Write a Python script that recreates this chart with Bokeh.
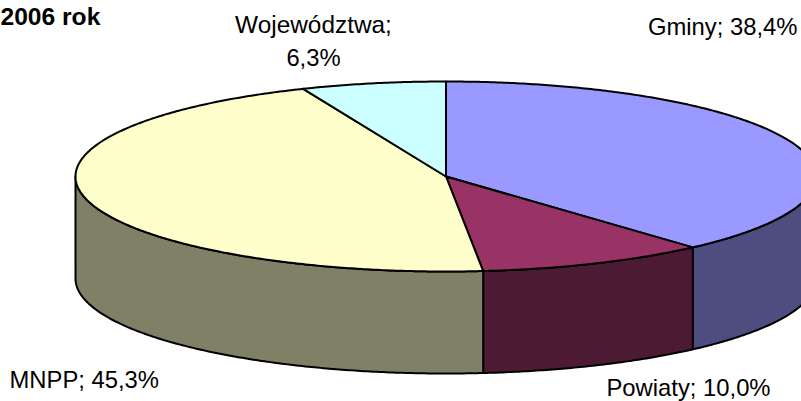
import numpy as np
from bokeh.plotting import figure
from bokeh.embed import file_html
from bokeh.resources import INLINE
from bokeh.core.properties import value

categories = ["Gminy", "Powiaty", "MNPP", "Województwa"]
shares = [38.4, 10.0, 45.3, 6.3]
top_colors = ["#9999FF", "#993366", "#FFFFCC", "#CCFFFF"]
side_colors = ["#4D4D80", "#4D1A33", "#808066", "#668080"]
title_text = "2006 rok"
label_texts = ["Gminy; 38,4%", "Powiaty; 10,0%", "MNPP; 45,3%", "Województwa;", "6,3%"]
label_x = [647.5, 606, 9, 313, 313]
label_y = [26, 387, 379, 24, 57]
label_align = ["left", "left", "left", "center", "center"]
label_size = ["23.8px", "23.8px", "23.8px", "24.4px", "23.8px"]

CX, CY, RX, RY, DEPTH = 445.5, 176, 370.5, 95, 102
FONT = "Liberation Sans"
EDGE = 2

p = figure(width=801, height=401, x_range=(0, 801), y_range=(401, 0),
           output_backend="svg", toolbar_location=None, min_border=0,
           outline_line_color=None, background_fill_color="white",
           border_fill_color="white")
p.axis.visible = False
p.grid.visible = False


def rim(a0, a1, dy=0.0):
    t = np.radians(np.linspace(a0, a1, max(2, int(abs(a1 - a0) * 2) + 1)))
    return CX + RX * np.sin(t), CY - RY * np.cos(t) + dy


edges = np.concatenate([[0], np.cumsum(shares)]) / sum(shares) * 360

# front wall of each slice: only the part of the rim that faces the viewer
for a0, a1, col in zip(edges[:-1], edges[1:], side_colors):
    lo, hi = max(a0, 90), min(a1, 270)
    if hi <= lo:
        continue
    xu, yu = rim(lo, hi)
    xl, yl = rim(lo, hi, DEPTH)
    p.patch(np.concatenate([xu, xl[::-1]]), np.concatenate([yu, yl[::-1]]),
            fill_color=col, line_color="black", line_width=EDGE, line_join="round")

# top face
for a0, a1, col in zip(edges[:-1], edges[1:], top_colors):
    xr, yr = rim(a0, a1)
    p.patch(np.concatenate([[CX], xr]), np.concatenate([[CY], yr]),
            fill_color=col, line_color="black", line_width=EDGE, line_join="round")

for tx, ty, txt, al, sz in zip(label_x, label_y, label_texts, label_align, label_size):
    p.text([tx], [ty], text=[txt], text_align=al, text_baseline="middle",
           text_font=value(FONT), text_font_size=sz, text_color="black")

p.text([0], [16], text=[title_text], text_align="left", text_baseline="middle",
       text_font=value(FONT), text_font_size="24.6px", text_font_style="bold",
       text_color="black")

open("out.html", "w").write(file_html(p, INLINE))
